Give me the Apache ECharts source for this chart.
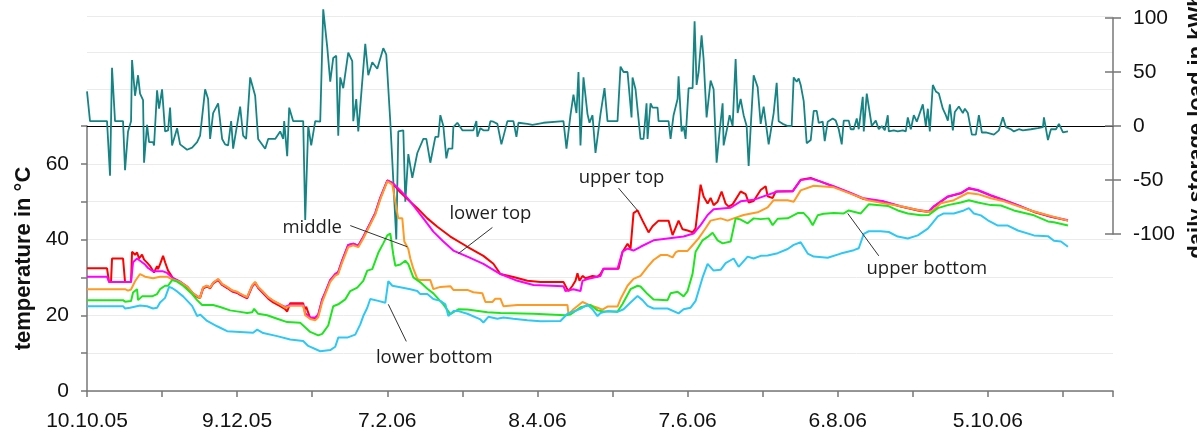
<!DOCTYPE html>
<html>
<head>
<meta charset="utf-8">
<script src="https://cdn.jsdelivr.net/npm/echarts@6/dist/echarts.min.js"></script>
<style>
html, body { margin: 0; padding: 0; background: #fff; }
#chart { width: 1197px; height: 439px; }
</style>
</head>
<body>
<div id="chart"></div>
<script>
// x values are days counted from 10.10.05
const dateLabels = ['10.10.05', '9.12.05', '7.2.06', '8.4.06', '7.6.06', '6.8.06', '5.10.06']
const tempTicks = [0, 20, 40, 60]

const upperTop = [[0,32.4],[8,32.4],[8.8,28.8],[9.6,28.8],[10,35],[14.4,35],[15.2,28.8],[17.6,28.8],[18,36.8],[19.2,36],[20,36.6],[20.8,35],[22,36],[22.8,34.7],[24,33.9],[25.2,33],[26.8,31.3],[28,33],[28.4,32.2],[29.2,33.5],[30.4,35.7],[31.2,34],[32.4,31.8],[34.4,29.8],[37.2,28.8],[40,27.4],[42.4,25.6],[44.4,24.7],[45.2,24.6],[46.4,27.1],[48,27.6],[49.2,27.1],[50.4,28.4],[52.4,29.3],[54,28],[56,27.2],[58,26.3],[60,25.9],[61.2,25.4],[62.4,25],[64,24.5],[66,27.6],[67.2,28.5],[68.4,27.2],[70.4,25.8],[72.4,24.4],[74.4,23.4],[77.2,22.4],[79.2,21.6],[80,21],[81.2,23.2],[86.4,23.2],[86.8,21.5],[87.6,22.2],[89.2,19.2],[91.2,19.2],[92.4,20],[94,24.2],[95.2,26],[97.2,29.3],[99.2,30.9],[100.4,31.4],[102,34.5],[104.4,38.6],[106.4,38.9],[108.4,38.4],[110.4,40.7],[113.2,44.3],[115.2,47],[117.2,51],[120,55.6],[122,55],[125.2,52.5],[129.2,50],[132,48.3],[136,45.6],[140,43.4],[145.2,40.8],[152,38.1],[158.4,35.7],[162.4,33.6],[165.2,30.9],[170.4,30.1],[176,29.1],[181.2,28.8],[190.4,28.8],[191.6,27.3],[192.4,26.4],[194,27.8],[195.2,29.1],[196,31.1],[196.8,29.1],[198,30.4],[199.2,29.8],[202,30.4],[204,30.2],[205.2,30.9],[206.4,32.3],[212.4,32.3],[214,36.7],[216,38.9],[217.2,37.6],[218.4,47],[220,47.7],[222,45],[224.4,41.9],[226,43.5],[228.4,45],[232.4,45],[234,41.2],[236.4,45],[238,42.7],[240,42.4],[242,41.9],[243.2,43],[245.2,54.5],[246.4,51.4],[248,49.5],[249.2,51],[250.4,49.1],[252,50],[253.6,52.7],[255.2,49.5],[256.4,48.7],[258,49.3],[261.2,52.7],[263.2,52],[264.4,49.8],[266.4,50.2],[269.2,53.1],[271.2,54.1],[272,51.4],[274,51],[275.2,52.7],[282,52.8],[285.2,55.8],[289.2,56.3],[293.2,55.3],[298.4,54],[305.2,52.2],[310.4,50.7],[318.4,50],[325.2,48.7],[332,47.7],[336.4,47.3],[338.4,48.7],[344,51.3],[349.2,52.2],[352.4,53.5],[356,53],[361.2,51.6],[366.4,50.4],[372,49],[378.4,47.3],[385.2,46],[392,45]]

const lowerTop = [[0,30.2],[8,30.2],[8.8,28.8],[17.6,28.8],[18.4,34],[20,35],[20.8,34.6],[22,34],[23.2,33.4],[24.4,32.5],[26.4,31.6],[30.4,31.6],[32,31.2],[34.4,29.8],[37.2,28.9],[40,27.6],[42.4,25.8],[44.4,24.9],[45.2,24.9],[46.4,27.3],[48,27.8],[49.2,27.3],[50.4,28.6],[52.4,29.5],[54,28.2],[56,27.4],[58,26.5],[60,26.1],[61.2,25.6],[62.4,25.2],[64,24.7],[66,27.8],[67.2,28.7],[68.4,27.4],[70.4,26.1],[72.4,24.7],[74.4,23.8],[77.2,22.8],[79.2,22.2],[81.2,22.8],[86.4,22.8],[87.2,20.5],[89.2,19.4],[91.2,19.4],[92.4,20.2],[94,24.2],[95.2,26],[97.2,29.3],[99.2,30.9],[100.4,31.4],[102,34.5],[104.4,38.6],[106.4,38.9],[108.4,38.4],[110.4,40.7],[113.2,44.3],[115.2,47],[117.2,51],[120,55.6],[122,55],[125.2,53],[128,51],[130.4,49],[134.4,45.6],[138.4,42.1],[142.4,39.5],[146.4,37.1],[152,35.5],[158.4,33.6],[165.2,30.9],[172,29.1],[178.4,28],[190.4,27.7],[191.2,26.4],[194.4,26.9],[197.2,26.4],[198,29.1],[200,29.6],[205.2,30.4],[206.4,32.3],[212,32.3],[214,36.8],[216,37.6],[218.4,37.1],[221.2,38.1],[226.4,39.8],[232,40.3],[238.4,40.8],[242.4,41.6],[245.2,43.8],[248,46.5],[250.4,48],[257.2,48.4],[261.2,50.1],[266.4,50.5],[272,51.8],[276,52.7],[282,52.7],[285.2,55.7],[289.2,56.1],[293.2,55.3],[298.4,54.1],[305.2,52.3],[310.4,50.9],[318.4,50.1],[325.2,48.8],[332,47.8],[336.4,47.4],[338.4,48.8],[344,51.4],[349.2,52.3],[352.4,53.6],[356,53.1],[361.2,51.7],[366.4,50.5],[372,49.1],[378.4,47.4],[385.2,46.1],[392,45.1]]

const middle = [[0,26.9],[15.2,26.9],[16.4,26.5],[17.6,26.8],[19.2,29],[21.2,30.9],[23.2,30.2],[26.4,29.8],[29.2,30.2],[32,30.2],[34,29.5],[37.2,28.8],[40,27.6],[42.4,25.8],[44.4,24.9],[45.2,24.7],[46.4,27.4],[48,27.8],[49.2,27.3],[50.4,28.6],[52.4,29.6],[54,28.3],[56,27.5],[58,26.6],[60,26.2],[61.2,25.7],[62.4,25.3],[64,24.8],[66,27.9],[67.2,28.8],[68.4,27.5],[70.4,26.2],[72.4,24.8],[74.4,23.9],[77.2,22.9],[79.2,22],[81.2,22.5],[86.4,22.5],[87.2,20],[89.2,19],[91.2,18.7],[92.4,19.5],[94,23.5],[95.2,25.5],[97.2,28.8],[99.2,30.5],[100.4,30.9],[102,34],[104.4,38],[106.4,38.5],[108.4,38],[110.4,40.3],[113.2,44],[115.2,46.6],[117.2,50.6],[120,55.4],[122,54.5],[122.4,53],[124,47],[124.4,45.6],[126,45.6],[126.8,39.5],[128.4,37.5],[129.2,35],[130.4,32.3],[132,29.6],[133.2,29.3],[137.2,29.3],[138.4,26.9],[141.2,27.5],[145.2,27.7],[146.4,26.7],[152,26.7],[154.4,26.1],[158,25.8],[159.2,23.5],[162,23.5],[163.2,24.4],[165.2,24.4],[166.4,22.4],[172,22.7],[192,22.7],[192.4,20.3],[194.4,21.6],[198,23.5],[200.4,22.8],[204,22],[206,21.5],[208,22.3],[212,22.3],[213.2,24.3],[216,27.8],[218.4,29.6],[221.2,30.4],[224,32.8],[226.4,34.6],[229.2,35.9],[232,35.9],[234,35.3],[235.2,36.6],[236.4,37],[240,37],[242,38.5],[244.4,40.3],[247.2,43],[249.2,45],[253.2,45.6],[256,45],[258.4,45.6],[262.4,46.5],[268,47.2],[272,48.5],[274.4,50.4],[280,50.4],[282.4,50],[285.2,53],[290.4,54.2],[298.4,53.8],[306.4,51.8],[312,50.4],[318.4,49.6],[325.2,48.8],[332,47.8],[336.4,47.3],[338,47.6],[341.2,49.6],[346.4,50.4],[352,52.3],[356,52],[361.2,50.9],[366.4,50.1],[378.4,47.4],[392,45]]

const upperBottom = [[0,24],[14.4,24],[15.2,23.6],[17.6,23.8],[18.4,26],[20,26.9],[20.4,24],[22,25],[26,25],[28,25.6],[29.2,26.9],[31.2,27.8],[32.4,27.8],[34,29.3],[36,28.9],[38.4,27.8],[42,25.6],[44,24],[46,22.7],[50.4,22.7],[53.2,22.2],[57.2,21.3],[61.2,20.9],[64,20.6],[66,20.8],[66.8,21.7],[68.4,20.4],[72,20],[76,19.1],[80,18.2],[85.2,18],[86.4,17.3],[89.2,15.6],[92.4,14.7],[94,15.1],[96.4,17.3],[98.4,22.4],[100.4,22.9],[103.2,24.2],[105.2,26.4],[108,27.3],[110.4,29.1],[112,31.8],[114,32.2],[116.4,36.5],[118.4,39],[120,41.1],[121.2,41.6],[122.4,36],[123.2,33.1],[125.2,33.4],[127.2,34.4],[128.4,33.5],[130.4,30],[133.2,28.7],[136,27],[138.4,25.8],[142.4,22.9],[145.2,20.3],[148.4,21.6],[152,21.5],[160,20.8],[165.2,20.6],[178.4,20.4],[191.2,20],[193.2,20.2],[197.2,22.1],[201.2,22.7],[204,21.3],[206.4,21],[212,21],[214,23],[217.2,26.9],[220,27.8],[221.2,27.6],[224,25.6],[226.4,24.2],[232,24],[233.2,25.8],[236,26.2],[238.4,25],[240,26.4],[242,31],[243.2,36.8],[246,39.8],[248,40.7],[250,41.8],[252,39.8],[254,39],[257.2,39.5],[259.2,45.6],[261.2,45.3],[264,44.3],[266.4,45.6],[269.2,45.4],[272.4,45.6],[274,43.8],[276,45.5],[280,45.6],[284,47],[286.4,47],[288.4,45.6],[290,43.8],[292,46.4],[294.4,46.8],[298.4,47],[302.4,46.9],[304.4,47.7],[309.2,46.9],[312.4,49.3],[320,48.9],[324,47.7],[328,46.9],[333.2,46.4],[336.4,46.5],[340,48.3],[344,49.1],[349.2,49.8],[352.4,50.4],[356,49.8],[361.2,49.1],[365.2,49],[370.4,47.7],[378.4,46.4],[384,44.8],[386.4,44.6],[392,43.7]]

const lowerBottom = [[0,22.4],[14.4,22.4],[15.2,21.8],[17.2,22],[21.2,22.6],[24,22.4],[26.4,21.8],[28,22],[29.2,23.4],[31.2,24.6],[32.8,27.5],[34,27.2],[36,26.3],[38.4,25],[42,22.5],[44,19.8],[45.2,20.2],[48,18.5],[52,17.1],[56,15.8],[61.2,15.6],[66.4,15.4],[68,16.2],[70.4,15.3],[76,14.5],[81.2,13.6],[86.4,13.2],[88.4,11.9],[93.2,10.5],[97.2,10.8],[99.2,11.7],[100.4,14.1],[104,14.1],[107.2,14.9],[109.2,17.6],[110.4,19.8],[112,22],[113.2,24.3],[116.4,23.8],[119.2,23.3],[120.4,29],[122,27.8],[125.2,27.4],[129.2,26.9],[132,26.4],[133.2,25.6],[136,25.6],[138.4,24.3],[141.2,23.8],[143.2,22.9],[144.4,19.8],[146.4,21.1],[148.4,21.1],[152,20.4],[157.2,18.9],[158.4,18.1],[160.4,19.6],[164,19.1],[166.4,19.4],[170.4,19.1],[176,18.7],[181.2,18.4],[189.2,18.5],[192,20.4],[197.2,21.7],[200,22.8],[202,21.6],[204,19.8],[205.2,20.6],[208,21.1],[212,20.9],[214.4,21.6],[217.2,23.4],[220,25.1],[222,24],[224,22.5],[226.4,21.8],[232,21.8],[236.4,20.5],[238.4,21.6],[241.2,22],[243.2,23.8],[246,30],[248,33.6],[250.4,31.8],[253.2,32],[255.2,33.8],[258.4,35],[260.4,32.8],[264,35.5],[266.4,35],[269.2,35.7],[272,35.8],[276,36.4],[280,37.5],[282.4,38.6],[285.2,39.3],[288,36.3],[290.4,35.5],[296,35.2],[301.2,36.3],[306.4,37.2],[308.4,37.7],[310.4,41.5],[312.4,42.2],[317.2,42.2],[320.4,42],[324,40.8],[328,40.3],[332,41.1],[336,42.9],[338,44.5],[340,46.1],[342.4,46.9],[346.4,46.9],[350.4,47.7],[352.4,48.3],[354.4,46.9],[357.2,46.4],[360,45.1],[364,43.7],[368,43.7],[372,42.4],[378.4,41.1],[384,40.9],[386.4,39.7],[389.2,39.5],[392,38.1]]

const storageLoad = [[0,32],[1.2,4.5],[8,4.5],[9.2,-46],[10,54],[11.2,4.5],[14.4,4.5],[15.2,-41],[16.4,-5],[17.6,4.5],[18,61],[19.2,28],[20.4,47],[21.2,30],[22.4,24],[22.8,-34],[24,1],[24.8,-15],[26.4,-15],[26.8,-18],[28,33],[28.8,16],[30,34],[31.2,-5],[32.4,-4],[33.2,17],[34,-18],[36,-2],[37.2,-17],[40,-22],[42,-20],[44,-15],[45.2,-9],[47.2,34],[48.4,25],[49.2,-12],[50.4,12],[52.4,21],[54,-12],[55.2,-17],[56.4,-18],[57.6,4.5],[58.4,-21],[61.2,18],[62.4,-9],[63.6,-12],[65.2,45],[67.2,28],[68.4,-12],[71.2,-21],[72.4,-12],[75.2,-12],[77.2,-5],[78.4,-12],[78.8,4.5],[80,-28],[80.8,17],[82.4,4.5],[86.4,4.5],[87.2,-87],[88.4,0],[89.6,-18],[91.2,4.5],[93.2,4],[94.4,108],[96,73],[97.2,41],[98.4,63],[99.6,65],[100.4,-9],[101.2,45],[102.4,35],[104.4,68],[106,60],[106.4,4.5],[107.6,25],[108.4,-5],[111.2,76],[112.4,47],[114,59],[116,53],[118.4,72],[119.6,66],[121.2,4],[123.6,-105],[124.4,-5],[126.4,-4],[127.2,-70],[128.4,-26],[130,-48],[132,-25],[134.4,-12],[135.6,-12],[137.2,-34],[139.2,-10],[140.4,-10],[141.2,10],[142.4,0],[143.6,-30],[144.4,-21],[146,-21],[146.4,-1],[148,3],[150,-4],[154.4,-4],[155.6,4.5],[156,-10],[157.2,-2],[158.4,-4],[160.4,-4],[161.2,4.5],[162.4,4],[164,2],[165.6,-17],[168,4.5],[170.4,4.5],[171.6,-10],[172.4,3],[176,2],[178,1],[182.4,3],[190.4,4.5],[191.6,-21],[193.2,10],[194.4,29],[195.6,12],[196.4,50],[197.2,-18],[198.4,45],[200,11],[200.8,3],[202,10],[203.2,-25],[205.2,11],[206.8,35],[208,4.5],[212,4.5],[213.2,55],[214.4,50],[216,50],[217.6,8],[218,45],[219.2,34],[221.2,-12],[222.4,-12],[223.6,21],[224,-12],[225.2,21],[226,17],[228,17],[228.4,4.5],[232.4,4.5],[233.2,-12],[234.4,10],[236,25],[236.4,46],[237.6,-5],[238.4,0],[239.2,-12],[240.4,35],[242,35],[242.8,97],[243.6,38],[244.4,50],[245.6,84],[246.4,62],[247.6,8],[249.2,42],[250.4,34],[251.6,-34],[252.8,-5],[254,21],[254.4,-18],[256,0],[256.8,10],[258,0],[259.2,62],[260,12],[261.2,25],[262.4,10],[263.6,0],[264.4,-37],[265.2,-2],[266.4,47],[268,36],[269.2,2],[270.4,18],[272.4,-17],[274.4,12],[275.6,40],[276.4,4.5],[278,2],[280,0],[281.6,0],[282.4,45],[283.6,41],[284.4,44],[285.2,38],[286.4,23],[287.6,-16],[289.2,-13],[290.4,14],[291.6,14],[292.4,3],[294,4],[294.8,-14],[296,4],[298,7],[299.2,5],[300.4,-3],[301.6,-17],[302.4,5],[304.4,5],[305.2,-3],[306.4,-3],[307.6,7],[308.4,-3],[310,27],[310.4,-5],[311.6,30],[313.6,0],[315.2,5],[316.4,-3],[317.6,0],[318.8,-4],[320,10],[320.4,-5],[322.4,-4],[324,-5],[326,-4],[327.2,-5],[328,8],[329.2,-3],[330.4,10],[331.6,4],[334,20],[335.2,0],[336,16],[336.8,-5],[338,38],[339.2,32],[340.4,30],[342,16],[343.2,10],[344,5],[344.8,20],[346,-4],[346.8,13],[348.4,18],[350,12],[350.8,16],[352,12],[353.6,-8],[355.2,-8],[356.4,10],[357.6,-6],[359.2,-6],[362.4,-8],[364.4,-4],[366,8],[367.2,-1],[369.2,-3],[370.4,-5],[372.4,-3],[374,-4],[377.2,-3],[380,-2],[382,-1],[382.4,8],[384,-13],[385.2,-3],[387.2,-3],[388.4,2],[390,-6],[392,-5]]

const axisFont = 'Liberation Sans, Arial, sans-serif'
const noteFont = 'Open Sans, Noto Sans, sans-serif'

// text label + leader line, in data coords of the temperature axis
const note = (text, at, from, to) => ({
  markPoint: {
    symbol: 'circle', symbolSize: 0, silent: true,
    data: [{ coord: at }],
    label: { show: true, position: 'inside', formatter: text, fontFamily: noteFont, fontSize: 18.5, color: '#1e1e1e' },
  },
  markLine: {
    symbol: ['none', 'none'], silent: true,
    lineStyle: { color: '#333', width: 1, type: 'solid' },
    label: { show: false },
    data: [[{ coord: from }, { coord: to }]],
  },
})

const tempLine = (name, data, color, n) => Object.assign({
  name, type: 'line', data, xAxisIndex: 0, yAxisIndex: 0,
  showSymbol: false, symbol: 'none',
  lineStyle: { color, width: 2 }, itemStyle: { color },
}, n)

const chart = echarts.init(document.getElementById('chart'))
chart.setOption({
  animation: false,
  backgroundColor: '#fff',
  grid: [
    { left: 87, right: 84, top: 126, bottom: 48, containLabel: false, outerBoundsMode: 'none' }, // temperature
    { left: 87, right: 84, top: 16, height: 110, containLabel: false, outerBoundsMode: 'none' }, // upper grid lines
    { left: 87, right: 84, top: 18, height: 216, containLabel: false, outerBoundsMode: 'none' }, // storage load
  ],
  xAxis: [
    {
      gridIndex: 0, type: 'value', min: 0, max: 410, interval: 30,
      axisLine: { lineStyle: { color: '#777', width: 1.5 } },
      axisTick: { length: 6, lineStyle: { color: '#777', width: 1.5 } },
      axisLabel: {
        margin: 20, fontSize: 21, color: '#111', fontFamily: axisFont,
        formatter: (v) => (v % 60 === 0 ? dateLabels[v / 60] || '' : ''),
      },
      splitLine: { show: false },
    },
    { gridIndex: 1, type: 'value', min: 0, max: 410, show: false },
    {
      gridIndex: 2, type: 'value', min: 0, max: 410,
      axisLine: { onZero: true, lineStyle: { color: '#000', width: 1.2 } },
      axisTick: { show: false }, axisLabel: { show: false }, splitLine: { show: false },
    },
  ],
  yAxis: [
    {
      gridIndex: 0, type: 'value', min: 0, max: 70, interval: 10, position: 'left',
      name: 'temperature in °C', nameLocation: 'middle', nameGap: 51,
      nameTextStyle: { fontFamily: axisFont, fontSize: 22, fontWeight: 'bold', color: '#111' },
      axisLine: { show: true, lineStyle: { color: '#777', width: 1.5 } },
      axisTick: { show: true, length: 6, lineStyle: { color: '#777', width: 1.5 } },
      axisLabel: {
        margin: 18, fontSize: 21, color: '#111', fontFamily: axisFont,
        formatter: (v) => (tempTicks.includes(v) ? String(v) : ''),
      },
      splitLine: { show: true, showMaxLine: false, lineStyle: { color: '#ebebeb', width: 1 } },
    },
    {
      gridIndex: 1, type: 'value', min: 70, max: 100, interval: 10,
      axisLine: { show: false }, axisTick: { show: false }, axisLabel: { show: false },
      splitLine: { show: true, showMinLine: false, lineStyle: { color: '#ebebeb', width: 1 } },
    },
    {
      gridIndex: 2, type: 'value', min: -100, max: 100, interval: 50, position: 'right', offset: 0,
      name: 'daily storage load in kWh', nameLocation: 'middle', nameGap: 70, nameRotate: 90,
      nameTextStyle: { fontFamily: axisFont, fontSize: 22, fontWeight: 'bold', color: '#111' },
      axisLine: { show: true, onZero: false, lineStyle: { color: '#777', width: 1.5 } },
      axisTick: { show: true, length: 8, lineStyle: { color: '#777', width: 1.5 } },
      axisLabel: { margin: 20, fontSize: 21, color: '#111', fontFamily: axisFont },
      splitLine: { show: false },
    },
    {
      gridIndex: 2, type: 'value', min: -100, max: 100, interval: 50, position: 'right', offset: 0,
      axisLine: { show: false, onZero: false },
      axisTick: { show: true, inside: true, length: 8, lineStyle: { color: '#777', width: 1.5 } },
      axisLabel: { show: false }, splitLine: { show: false },
    },
  ],
  series: [
    {
      name: 'storage load', type: 'line', data: storageLoad, xAxisIndex: 2, yAxisIndex: 2,
      showSymbol: false, symbol: 'none', clip: false,
      lineStyle: { color: '#168484', width: 1.8 }, itemStyle: { color: '#168484' },
    },
    tempLine('upper top', upperTop, '#ff0000', note('upper top', [213.6, 56.3], [212.4, 53.6], [220, 47.7])),
    tempLine('lower top', lowerTop, '#ff00ff', note('lower top', [161.2, 46.7], [162, 43.2], [148.4, 36.3])),
    tempLine('middle', middle, '#ff9a22', note('middle', [90, 43.2], [105.2, 43.7], [128, 38.1])),
    tempLine('upper bottom', upperBottom, '#1ee61e', note('upper bottom', [335.6, 32.3], [316.4, 35.7], [304, 46.9])),
    tempLine('lower bottom', lowerBottom, '#2ec8f5', note('lower bottom', [138.8, 8.8], [127.6, 13.1], [120.4, 22.9])),
  ],
})
</script>
</body>
</html>
